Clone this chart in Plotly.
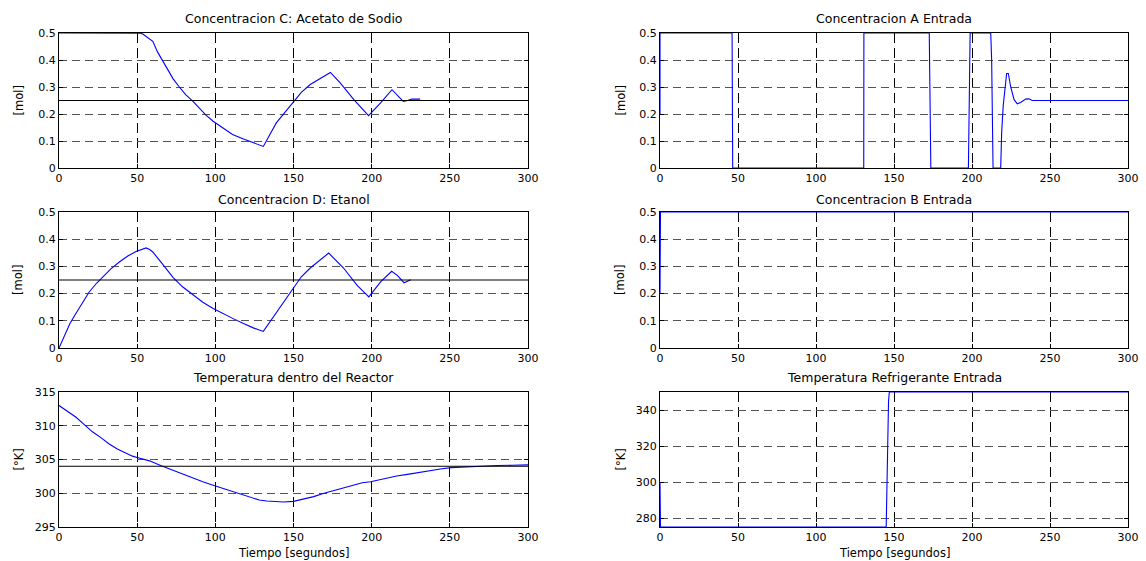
import plotly.graph_objects as go
from plotly.subplots import make_subplots

# ---------------- data ----------------
t_C = [0, 50, 52, 53.6, 55, 58, 60, 63, 66.4, 70, 73, 77, 81, 85.7, 90, 94, 98.6, 105, 111,
       118, 124, 130.7, 139, 150, 155, 160.7, 167, 173.6, 180, 188.6, 198, 205.7, 213,
       217, 220.2, 223, 225.6, 231]
C = [0.5, 0.5, 0.499, 0.496, 0.49, 0.48, 0.469, 0.43, 0.395, 0.36, 0.33, 0.30, 0.272,
     0.247, 0.22, 0.196, 0.173, 0.148, 0.124, 0.107, 0.093, 0.080, 0.167, 0.247, 0.28,
     0.309, 0.33, 0.354, 0.314, 0.253, 0.194, 0.241, 0.290, 0.265, 0.247, 0.25, 0.255, 0.255]

t_D = [0, 2, 4.3, 7, 10.7, 15, 19.3, 24, 27.9, 33, 38.6, 44, 49.3, 53, 55.7, 58, 60, 66,
       72.9, 79, 85.7, 92, 98.6, 105, 111.4, 118, 124.3, 130.7, 139.3, 150, 155, 160.7,
       166, 172.5, 182, 190.7, 198.2, 205.7, 212.8, 216.4, 220.7, 225]
D = [0, 0.025, 0.053, 0.09, 0.126, 0.168, 0.206, 0.238, 0.261, 0.29, 0.316, 0.338, 0.355,
     0.364, 0.368, 0.362, 0.353, 0.31, 0.26, 0.225, 0.194, 0.168, 0.145, 0.125, 0.108,
     0.09, 0.074, 0.061, 0.132, 0.224, 0.262, 0.294, 0.32, 0.349, 0.294, 0.23, 0.188,
     0.243, 0.282, 0.267, 0.24, 0.251]

t_T = [0, 5, 10.7, 16, 21.4, 27, 32.1, 37, 42.9, 47, 50, 54, 57.9, 65, 72.9, 79, 85.7, 92,
       98.6, 105, 111.4, 118, 124.3, 128, 132.9, 138, 143.6, 150, 156, 162.9, 169, 175.7,
       182, 188.6, 194, 199.3, 205, 210, 216, 222.9, 230, 237.9, 244, 250.7, 258, 265.7,
       273, 280.7, 290, 300]
T = [313.0, 312.2, 311.3, 310.2, 309.1, 308.2, 307.3, 306.6, 305.9, 305.5, 305.3, 305.1,
     304.8, 304.1, 303.4, 302.8, 302.2, 301.7, 301.2, 300.7, 300.2, 299.7, 299.2, 299.0,
     298.85, 298.75, 298.7, 298.8, 299.1, 299.5, 299.95, 300.4, 300.85, 301.3, 301.55,
     301.7, 302.0, 302.3, 302.55, 302.8, 303.1, 303.4, 303.6, 303.8, 303.9, 304.0, 304.05,
     304.1, 304.15, 304.2]

t_A = [0, 0.01, 46.2, 46.6, 130.6, 130.7, 172.6, 173.6, 197.7, 198.2, 198.8, 212, 212.6,
       213.2, 213.5, 218.4, 219, 220, 221, 222.2, 223.3, 224.8, 227, 229, 231.2, 234.4,
       236.5, 238.6, 300]
A = [0.2, 0.5, 0.5, 0, 0, 0.5, 0.5, 0, 0, 0.3, 0.5, 0.5, 0.4, 0.13, 0, 0, 0.13, 0.23, 0.29,
     0.35, 0.35, 0.30, 0.253, 0.238, 0.243, 0.255, 0.256, 0.25, 0.25]

t_B = [0, 0.3, 300]
B = [0.2, 0.5, 0.5]

t_R = [0, 0.3, 145, 145.5, 146, 146.5, 147, 300]
R = [300, 275, 275, 300, 316, 345, 350, 350]

ref_conc = 0.25
ref_temp = 304

titles = ["Concentracion C: Acetato de Sodio", "Concentracion A Entrada",
          "Concentracion D: Etanol", "Concentracion B Entrada",
          "Temperatura dentro del Reactor", "Temperatura Refrigerante Entrada"]
ylabels = ["[mol]", "[mol]", "[mol]", "[mol]", "[°K]", "[°K]"]
xlabel = "Tiempo [segundos]"

# ---------------- figure ----------------
W, H = 1146, 561
fig = make_subplots(rows=3, cols=2)

BLUE = "rgb(0,0,255)"
def add(t, y, r, c, color=BLUE, w=1.1):
    fig.add_trace(go.Scatter(x=t, y=y, mode="lines", line=dict(color=color, width=w),
                             showlegend=False, hoverinfo="skip"), row=r, col=c)

add(t_C, C, 1, 1)
add([0, 300], [ref_conc, ref_conc], 1, 1, "black", 1)
add(t_A, A, 1, 2)
add(t_D, D, 2, 1)
add([0, 300], [ref_conc, ref_conc], 2, 1, "black", 1)
add(t_B, B, 2, 2)
add(t_T, T, 3, 1)
add([0, 300], [ref_temp, ref_temp], 3, 1, "black", 1)
add(t_R, R, 3, 2)

xdom = {1: [59 / W, 528 / W], 2: [660 / W, 1128 / W]}
rows_px = {1: (33, 168), 2: (212, 348), 3: (392, 527)}
ydom = {r: [1 - b / H, 1 - t / H] for r, (t, b) in rows_px.items()}

font = "DejaVu Sans"
ann = []
idx = 0
for r in (1, 2, 3):
    for c in (1, 2):
        idx += 1
        sfx = "" if idx == 1 else str(idx)
        if r < 3:
            yr, dt, t0 = [0, 0.5], 0.1, 0
        else:
            yr, dt, t0 = ([295, 315], 5, 295) if c == 1 else ([275, 350], 20, 280)
        fig.layout["xaxis" + sfx].update(
            domain=xdom[c], range=[0, 300], dtick=50, tick0=0, automargin=False,
            showline=True, linecolor="black", linewidth=1, mirror="ticks",
            ticks="inside", ticklen=4, tickcolor="black",
            showgrid=True, gridcolor="black", gridwidth=1, griddash="10px,5px",
            zeroline=False, layer="below traces",
            tickfont=dict(family=font, size=11, color="black"))
        fig.layout["yaxis" + sfx].update(
            domain=ydom[r], range=yr, dtick=dt, tick0=t0, automargin=False,
            showline=True, linecolor="black", linewidth=1, mirror="ticks",
            ticks="inside", ticklen=4, tickcolor="black",
            showgrid=True, gridcolor="#555", gridwidth=1, griddash="8px,5px",
            zeroline=False, layer="below traces",
            tickfont=dict(family=font, size=11, color="black"))
        tpx = {1: 18.5, 2: 199.5, 3: 377}[r]
        ann.append(dict(text=titles[idx - 1], x=sum(xdom[c]) / 2, y=1 - tpx / H,
                        xref="paper", yref="paper", xanchor="center", yanchor="middle",
                        showarrow=False, font=dict(family=font, size=12.5, color="black")))
        lx = 18 if c == 1 else 620
        ann.append(dict(text=ylabels[idx - 1], x=lx / W, y=sum(ydom[r]) / 2,
                        xref="paper", yref="paper", xanchor="center", yanchor="middle",
                        textangle=-90, showarrow=False,
                        font=dict(family=font, size=11.5, color="black")))
        if r == 3:
            ann.append(dict(text=xlabel, x=sum(xdom[c]) / 2, y=1 - 553 / H,
                            xref="paper", yref="paper", xanchor="center", yanchor="middle",
                            showarrow=False, font=dict(family=font, size=11.5, color="black")))

fig.update_layout(width=W, height=H, margin=dict(l=0, r=0, t=0, b=0, pad=0, autoexpand=False),
                  paper_bgcolor="white", plot_bgcolor="white",
                  annotations=ann, showlegend=False)

fig.write_html("out.html", config={"displayModeBar": False},
               post_script="document.body.style.margin='0';")
